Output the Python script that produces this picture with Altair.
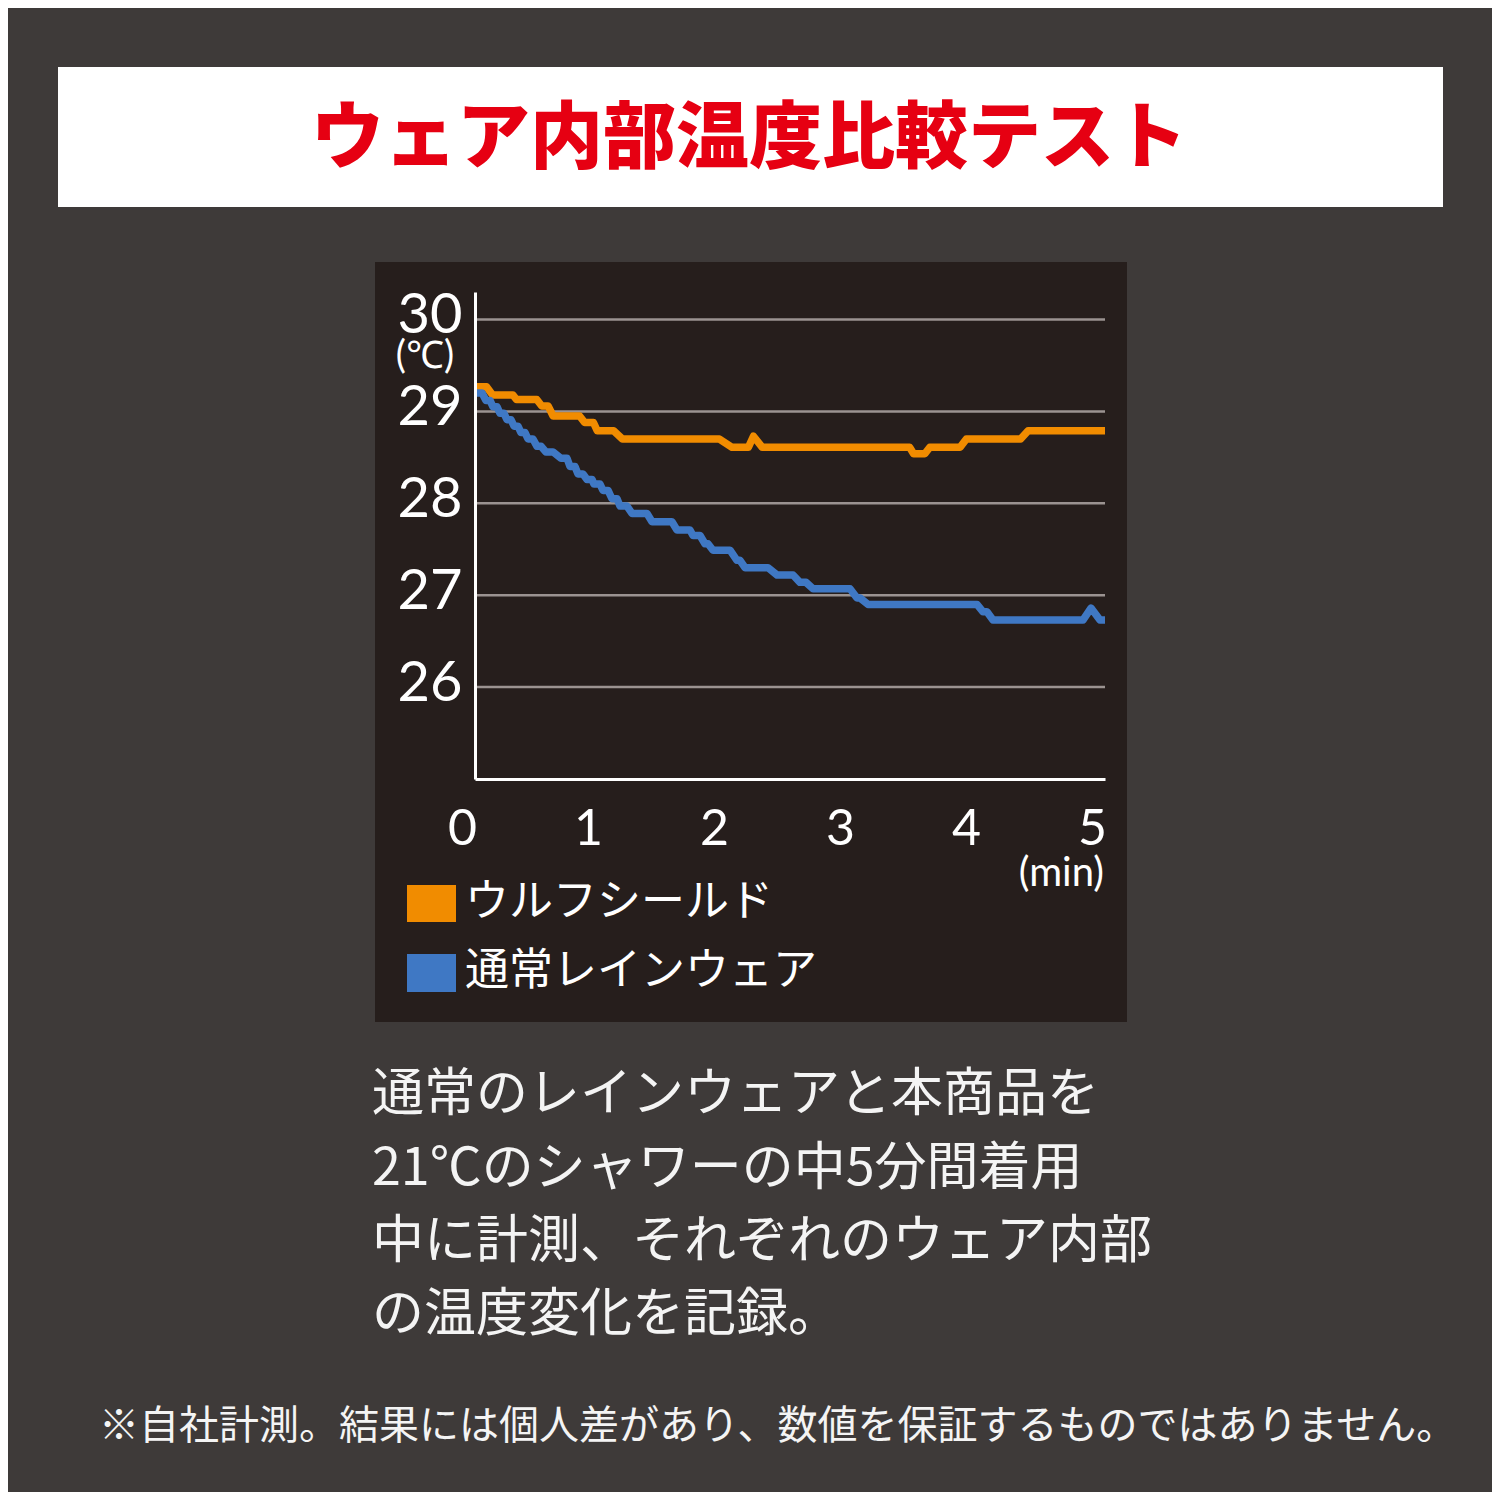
import altair as alt
import pandas as pd

# ---------------- data ----------------
series_names = ["ウルフシールド", "通常レインウェア"]
series_colors = ["#f18c00", "#3f78c4"]

wolf_t = [0.00, 0.09, 0.14, 0.30, 0.33, 0.49, 0.53, 0.58, 0.62, 0.83, 0.87, 0.94,
          0.97, 1.10, 1.17, 1.94, 2.04, 2.17, 2.21, 2.28, 3.45, 3.48, 3.57, 3.61,
          3.85, 3.90, 4.33, 4.39, 5.00]
wolf_temp = [29.27, 29.27, 29.18, 29.18, 29.13, 29.13, 29.06, 29.06, 28.95, 28.95,
             28.88, 28.88, 28.79, 28.79, 28.70, 28.70, 28.61, 28.61, 28.73, 28.61,
             28.61, 28.54, 28.54, 28.61, 28.61, 28.70, 28.70, 28.79, 28.79]

rain_t = [0.000, 0.056, 0.087, 0.119, 0.143, 0.175, 0.198, 0.230, 0.254, 0.286,
          0.310, 0.341, 0.365, 0.397, 0.421, 0.460, 0.492, 0.524, 0.563, 0.619,
          0.683, 0.730, 0.754, 0.794, 0.817, 0.857, 0.889, 0.929, 0.944, 0.992,
          1.016, 1.056, 1.087, 1.127, 1.151, 1.206, 1.246, 1.365, 1.405, 1.563,
          1.603, 1.706, 1.730, 1.786, 1.825, 1.849, 1.889, 2.024, 2.079, 2.103,
          2.143, 2.325, 2.397, 2.524, 2.579, 2.627, 2.683, 2.976, 3.032, 3.056,
          3.119, 3.984, 4.032, 4.063, 4.111, 4.825, 4.889, 4.960, 5.000]
rain_temp = [29.20, 29.20, 29.12, 29.12, 29.05, 29.05, 28.98, 28.98, 28.91, 28.91,
             28.84, 28.84, 28.77, 28.77, 28.70, 28.70, 28.62, 28.62, 28.56, 28.56,
             28.49, 28.49, 28.40, 28.40, 28.32, 28.32, 28.26, 28.26, 28.21, 28.21,
             28.14, 28.14, 28.05, 28.05, 27.97, 27.97, 27.89, 27.89, 27.80, 27.80,
             27.71, 27.71, 27.65, 27.65, 27.56, 27.56, 27.49, 27.49, 27.38, 27.38,
             27.30, 27.30, 27.22, 27.22, 27.14, 27.14, 27.07, 27.07, 26.97, 26.97,
             26.90, 26.90, 26.82, 26.82, 26.73, 26.73, 26.86, 26.73, 26.73]

y_ticks = [26, 27, 28, 29, 30]
x_ticks = [0, 1, 2, 3, 4, 5]

title_text = "ウェア内部温度比較テスト"
unit_y = "(℃)"
unit_x = "(min)"
body_lines = [
    "通常のレインウェアと本商品を",
    "21℃のシャワーの中5分間着用",
    "中に計測、それぞれのウェア内部",
    "の温度変化を記録。",
]
footnote = "※自社計測。結果には個人差があり、数値を保証するものではありません。"

# ---------------- tables ----------------
wolf_df = pd.DataFrame({"t": wolf_t, "temp": wolf_temp, "series": series_names[0]})
rain_df = pd.DataFrame({"t": rain_t, "temp": rain_temp, "series": series_names[1]})
grid_df = pd.DataFrame({"v": y_ticks})
legend_df = pd.DataFrame({"series": series_names})
one = pd.DataFrame({"a": [0]})

BG = "#3e3a39"
PANEL = "#261e1c"
JP = "Noto Sans CJK JP"
LAT = "Lato"

xscale = alt.Scale(domain=[0, 5], nice=False, zero=False)
yscale = alt.Scale(domain=[25, 30.3], nice=False, zero=False)
color_scale = alt.Scale(domain=series_names, range=series_colors)

x_enc = alt.X("t:Q", scale=xscale, axis=alt.Axis(
    values=x_ticks, format="d", grid=False, ticks=False, tickSize=0, title=None,
    domainColor="#ffffff", domainWidth=3, labelColor="#ffffff",
    labelFont=LAT, labelFontSize=50, labelPadding=50, labelBaseline="middle",
    labelOffset=-13, labelFlush=False, labelOverlap=False, zindex=1))
y_enc = alt.Y("temp:Q", scale=yscale, axis=alt.Axis(
    values=y_ticks, format="d", grid=False, ticks=False, tickSize=0, title=None,
    domainColor="#ffffff", domainWidth=3, labelColor="#ffffff",
    labelFont=LAT, labelFontSize=56, labelPadding=13, labelBaseline="middle",
    labelOffset=-4, labelFlush=False, labelOverlap=False, zindex=1))

stroke_enc = alt.Stroke("series:N", scale=color_scale, legend=None)

title_box = alt.Chart(one).mark_rect(color="#ffffff").encode(
    x=alt.value(-417), x2=alt.value(968), y=alt.value(-225), y2=alt.value(-85))
title = alt.Chart(one).mark_text(
    text=title_text, font=JP, fontSize=73, fontWeight=900, color="#e60012",
    align="center", baseline="middle").encode(x=alt.value(274), y=alt.value(-152))

panel = alt.Chart(one).mark_rect(color=PANEL).encode(
    x=alt.value(-100), x2=alt.value(652), y=alt.value(-30), y2=alt.value(730))

grid = alt.Chart(grid_df).mark_rule(color="#9b9391", strokeWidth=2.5).encode(
    y=alt.Y("v:Q", scale=yscale))

wolf_line = alt.Chart(wolf_df).mark_line(strokeWidth=7.5, strokeJoin="round").encode(
    x=x_enc, y=y_enc, stroke=stroke_enc)
rain_line = alt.Chart(rain_df).mark_line(strokeWidth=7.5, strokeJoin="round").encode(
    x=alt.X("t:Q", scale=xscale), y=alt.Y("temp:Q", scale=yscale), stroke=stroke_enc)

# legend (drawn from the series names through the shared colour scale)
legend_rows = [(series_names[0], 593, 630, 611), (series_names[1], 662, 700, 680)]
legend_marks = []
for name, y1, y2, yc in legend_rows:
    base = alt.Chart(legend_df).transform_filter(alt.datum.series == name)
    legend_marks.append(base.mark_rect().encode(
        x=alt.value(-68), x2=alt.value(-19), y=alt.value(y1), y2=alt.value(y2),
        fill=alt.Fill("series:N", scale=color_scale, legend=None)))
    legend_marks.append(base.mark_text(
        font=JP, fontSize=44, color="#ffffff", align="left", baseline="middle").encode(
        x=alt.value(-10), y=alt.value(yc), text="series:N"))

unit_y_mark = alt.Chart(one).mark_text(
    text=unit_y, font=LAT, fontSize=38, color="#ffffff", align="center",
    baseline="middle").encode(x=alt.value(-50), y=alt.value(65))
unit_x_mark = alt.Chart(one).mark_text(
    text=unit_x, font=LAT, fontSize=40, color="#ffffff", align="right",
    baseline="middle").encode(x=alt.value(629), y=alt.value(582))

body_y = [803, 877, 950, 1023]
body_marks = [
    alt.Chart(one).mark_text(text=line, font=JP, fontSize=52, color="#f4f4f4",
                             align="left", baseline="middle").encode(
        x=alt.value(-103), y=alt.value(yy))
    for line, yy in zip(body_lines, body_y)
]
foot_mark = alt.Chart(one).mark_text(
    text=footnote, font=JP, fontSize=40, color="#f4f4f4", align="left",
    baseline="middle").encode(x=alt.value(-376), y=alt.value(1135))

chart = alt.layer(
    title_box, title, panel, grid, wolf_line, rain_line, *legend_marks,
    unit_y_mark, unit_x_mark, *body_marks, foot_mark
).properties(
    width=630, height=487,
    padding={"left": 467, "top": 284, "right": 387, "bottom": 713},
    autosize=alt.AutoSizeParams(type="none"),
).configure(background=BG).configure_view(strokeWidth=0)

chart.save("out.html", embed_options={"renderer": "svg", "actions": False})
